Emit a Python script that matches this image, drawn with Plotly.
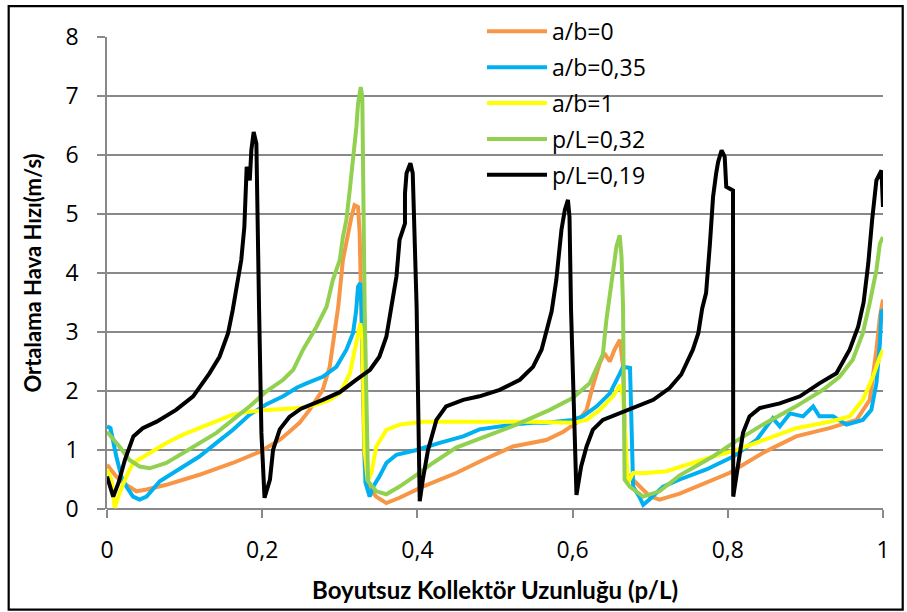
import plotly.graph_objects as go

# ---------------- data ----------------
ab0_x = [0, 0.012, 0.025, 0.038, 0.051, 0.0765, 0.119, 0.162, 0.197, 0.2225, 0.235, 0.248, 0.261, 0.278, 0.287,
         0.293, 0.298, 0.304, 0.3106, 0.315, 0.319, 0.3235, 0.3256, 0.328, 0.332, 0.3385, 0.347, 0.36, 0.377,
         0.407, 0.45, 0.4845, 0.523, 0.566, 0.588, 0.605, 0.618, 0.626, 0.635, 0.641, 0.648, 0.654, 0.661,
         0.665, 0.667, 0.669, 0.682, 0.699, 0.712, 0.738, 0.802, 0.845, 0.888, 0.931, 0.966, 0.983, 0.9915,
         0.996, 1.0]
ab0_y = [0.75, 0.55, 0.41, 0.30, 0.33, 0.41, 0.58, 0.78, 0.97, 1.17, 1.31, 1.46, 1.68, 2.02, 2.41,
         2.98, 3.43, 4.22, 4.67, 4.95, 5.15, 5.12, 4.67, 3.43, 0.72, 0.33, 0.21, 0.10, 0.19,
         0.38, 0.61, 0.83, 1.06, 1.17, 1.31, 1.46, 1.68, 2.08, 2.47, 2.64, 2.50, 2.70, 2.87,
         2.41, 1.29, 0.61, 0.44, 0.22, 0.16, 0.26, 0.61, 0.95, 1.23, 1.37, 1.51, 1.85, 2.70,
         3.26, 3.55]

ab035_x = [0, 0.0045, 0.012, 0.0186, 0.025, 0.0335, 0.042, 0.051, 0.068, 0.098, 0.119, 0.141, 0.162, 0.184,
           0.205, 0.227, 0.245, 0.257, 0.278, 0.2956, 0.3085, 0.317, 0.321, 0.3235, 0.3265, 0.328, 0.333,
           0.3385, 0.343, 0.351, 0.36, 0.373, 0.399, 0.4287, 0.459, 0.480, 0.523, 0.549, 0.566, 0.60, 0.613,
           0.631, 0.648, 0.661, 0.665, 0.674, 0.676, 0.678, 0.686, 0.691, 0.699, 0.7165, 0.738, 0.7724, 0.807,
           0.837, 0.858, 0.867, 0.88, 0.897, 0.91, 0.918, 0.9356, 0.953, 0.974, 0.985, 0.9915, 0.996, 0.998,
           1.0]
ab035_y = [1.40, 1.37, 0.89, 0.55, 0.38, 0.21, 0.16, 0.21, 0.47, 0.72, 0.89, 1.12, 1.34, 1.60,
           1.77, 1.91, 2.06, 2.13, 2.24, 2.41, 2.70, 2.98, 3.35, 3.77, 3.83, 3.43, 0.45,
           0.21, 0.38, 0.55, 0.78, 0.92, 1.0, 1.12, 1.23, 1.35, 1.43, 1.46, 1.46, 1.51, 1.57,
           1.74, 1.96, 2.30, 2.41, 2.39, 1.29, 0.38, 0.21, 0.07, 0.16, 0.38, 0.50, 0.67, 0.89,
           1.17, 1.54, 1.40, 1.62, 1.57, 1.74, 1.57, 1.57, 1.43, 1.51, 1.68, 2.13, 2.81, 3.37,
           3.35]

ab1_x = [0, 0.0057, 0.01, 0.016, 0.025, 0.0335, 0.055, 0.0765, 0.098, 0.119, 0.141, 0.162, 0.184, 0.205,
         0.248, 0.27, 0.287, 0.30, 0.313, 0.321, 0.3265, 0.329, 0.332, 0.336, 0.3407, 0.347, 0.36, 0.377,
         0.407, 0.45, 0.493, 0.545, 0.60, 0.618, 0.635, 0.652, 0.661, 0.665, 0.669, 0.671, 0.678, 0.695,
         0.721, 0.751, 0.781, 0.811, 0.845, 0.888, 0.931, 0.957, 0.974, 0.987, 0.996, 1.0]
ab1_y = [0.67, 0.50, 0.02, 0.27, 0.55, 0.78, 0.95, 1.12, 1.26, 1.37, 1.48, 1.60, 1.65, 1.68,
         1.71, 1.77, 1.85, 1.96, 2.30, 2.81, 3.15, 2.87, 1.0, 0.47, 0.61, 1.06, 1.34, 1.43,
         1.48, 1.48, 1.48, 1.48, 1.46, 1.51, 1.68, 1.91, 2.10, 1.91, 1.0, 0.44, 0.61, 0.61,
         0.64, 0.77, 0.89, 1.0, 1.17, 1.37, 1.48, 1.57, 1.85, 2.24, 2.58, 2.70]

pl032_x = [0, 0.016, 0.029, 0.042, 0.055, 0.0765, 0.098, 0.119, 0.141, 0.162, 0.184, 0.205, 0.227, 0.24,
           0.2526, 0.27, 0.283, 0.291, 0.30, 0.304, 0.3085, 0.3128, 0.317, 0.3214, 0.3235, 0.327, 0.329,
           0.332, 0.3364, 0.347, 0.36, 0.377, 0.399, 0.42, 0.45, 0.4845, 0.5276, 0.5706, 0.60, 0.622, 0.639,
           0.6435, 0.65, 0.654, 0.6565, 0.6607, 0.663, 0.665, 0.667, 0.6736, 0.691, 0.712, 0.738, 0.781,
           0.807, 0.845, 0.888, 0.9227, 0.944, 0.961, 0.974, 0.983, 0.9915, 0.996, 1.0]
pl032_y = [1.31, 1.06, 0.83, 0.72, 0.69, 0.78, 0.95, 1.12, 1.29, 1.51, 1.74, 1.99, 2.19, 2.36,
           2.70, 3.09, 3.43, 3.88, 4.22, 4.61, 4.90, 5.40, 5.91, 6.48, 6.87, 7.15, 6.98,
           3.43, 0.47, 0.30, 0.25, 0.38, 0.58, 0.78, 1.04, 1.22, 1.43, 1.68, 1.88, 2.13, 2.62,
           3.20, 3.77, 4.16, 4.45, 4.64, 4.28, 3.43, 0.50, 0.38, 0.21, 0.30, 0.57, 0.89,
           1.12, 1.43, 1.74, 2.02, 2.24, 2.53, 2.98, 3.50, 4.05, 4.50, 4.61]

pl019_x = [0, 0.008, 0.015, 0.023, 0.034, 0.046, 0.064, 0.089, 0.111, 0.132, 0.145, 0.156, 0.162, 0.167,
           0.173, 0.177, 0.178, 0.180, 0.184, 0.186, 0.189, 0.1925, 0.196, 0.199, 0.203, 0.210, 0.214,
           0.2226, 0.235, 0.25, 0.278, 0.30, 0.321, 0.339, 0.351, 0.36, 0.3665, 0.373, 0.377, 0.384, 0.384,
           0.386, 0.391, 0.394, 0.395, 0.399, 0.403, 0.407, 0.4137, 0.4245, 0.437, 0.459, 0.480, 0.506,
           0.532, 0.549, 0.560, 0.566, 0.573, 0.579, 0.583, 0.5856, 0.590, 0.594, 0.596, 0.598, 0.605, 0.611,
           0.618, 0.626, 0.639, 0.661, 0.682, 0.704, 0.725, 0.740, 0.755, 0.762, 0.767, 0.772, 0.777, 0.781,
           0.785, 0.7875, 0.792, 0.796, 0.798, 0.8025, 0.8067, 0.807, 0.813, 0.8196, 0.828, 0.841, 0.867,
           0.893, 0.918, 0.940, 0.957, 0.968, 0.975, 0.981, 0.986, 0.9915, 0.998, 1.0]
pl019_y = [0.55, 0.21, 0.45, 0.83, 1.23, 1.37, 1.48, 1.68, 1.91, 2.30, 2.58, 2.98, 3.37, 3.77,
           4.22, 4.78, 5.24, 5.80, 5.57, 6.08, 6.39, 6.19, 3.37, 1.29, 0.19, 0.50, 1.0,
           1.35, 1.56, 1.70, 1.85, 1.98, 2.19, 2.36, 2.58, 2.92, 3.43, 3.94, 4.56, 4.84, 5.35,
           5.69, 5.86, 5.69, 5.24, 3.43, 0.13, 0.50, 1.0, 1.51, 1.74, 1.85, 1.91, 2.02,
           2.19, 2.41, 2.70, 2.98, 3.35, 3.88, 4.50, 4.73, 5.07, 5.24, 4.95, 3.37, 0.24, 0.72,
           1.06, 1.34, 1.51, 1.62, 1.74, 1.85, 2.05, 2.28, 2.70, 2.98, 3.40, 3.66, 4.50, 5.29,
           5.69, 5.88, 6.08, 5.97, 5.46, 5.42, 5.40, 0.21, 0.72, 1.29, 1.57, 1.71, 1.79,
           1.91, 2.13, 2.30, 2.70, 3.09, 3.50, 4.16, 4.90, 5.57, 5.74, 5.12]

series = [
    ("a/b=0", ab0_x, ab0_y, "#F79646"),
    ("a/b=0,35", ab035_x, ab035_y, "#00B0F0"),
    ("a/b=1", ab1_x, ab1_y, "#FFFF00"),
    ("p/L=0,32", pl032_x, pl032_y, "#92D050"),
    ("p/L=0,19", pl019_x, pl019_y, "#000000"),
]

x_ticks = [0, 0.2, 0.4, 0.6, 0.8, 1]
x_ticklabels = ["0", "0,2", "0,4", "0,6", "0,8", "1"]
y_ticks = [0, 1, 2, 3, 4, 5, 6, 7, 8]

LABEL_FONT = "'Open Sans', sans-serif"
TITLE_FONT = "Lato, 'Open Sans', sans-serif"
GRID = "#898989"

fig = go.Figure()
for i, (name, xs, ys, col) in enumerate(series):
    fig.add_trace(go.Scatter(x=xs, y=ys, mode="lines", name=name, legendgroup=f"g{i}",
                             line=dict(color=col, width=4)))

fig.update_layout(
    width=907, height=612,
    margin=dict(l=107, r=24, t=37, b=103, autoexpand=False),
    paper_bgcolor="white", plot_bgcolor="white",
    font=dict(family=LABEL_FONT, size=23, color="black"),
    showlegend=True,
    legend=dict(xref="container", yref="container", x=0.5314, y=0.984,
                xanchor="left", yanchor="top",
                bgcolor="rgba(0,0,0,0)", font=dict(family=LABEL_FONT, size=23, color="black"),
                itemwidth=60, tracegroupgap=3),
    xaxis=dict(range=[0, 1], tickvals=x_ticks, ticktext=x_ticklabels,
               showgrid=False, zeroline=False, showline=False,
               ticks="outside", ticklen=8, tickwidth=1.5, tickcolor=GRID,
               ticklabelstandoff=12,
               tickfont=dict(family=LABEL_FONT, size=23),
               title=dict(text="<b>Boyutsuz Kollektör Uzunluğu (p/L)</b>",
                          font=dict(family=TITLE_FONT, size=24), standoff=18)),
    yaxis=dict(range=[0, 8], tickvals=y_ticks,
               showgrid=True, gridcolor=GRID, gridwidth=1.5,
               zeroline=True, zerolinecolor=GRID, zerolinewidth=1.5,
               showline=True, linecolor=GRID, linewidth=1.5,
               ticks="outside", ticklen=8, tickwidth=1.5, tickcolor=GRID,
               ticklabelstandoff=14,
               tickfont=dict(family=LABEL_FONT, size=23),
               title=dict(text="<b>Ortalama Hava Hızı(m/s)</b>",
                          font=dict(family=TITLE_FONT, size=22), standoff=18)),
)

fig.add_shape(type="rect", xref="paper", yref="paper",
              x0=-0.1267, x1=1.0254, y0=-0.213, y1=1.0656,
              line=dict(color="black", width=2.2), fillcolor="rgba(0,0,0,0)", layer="above")

fig.write_html("out.html")
